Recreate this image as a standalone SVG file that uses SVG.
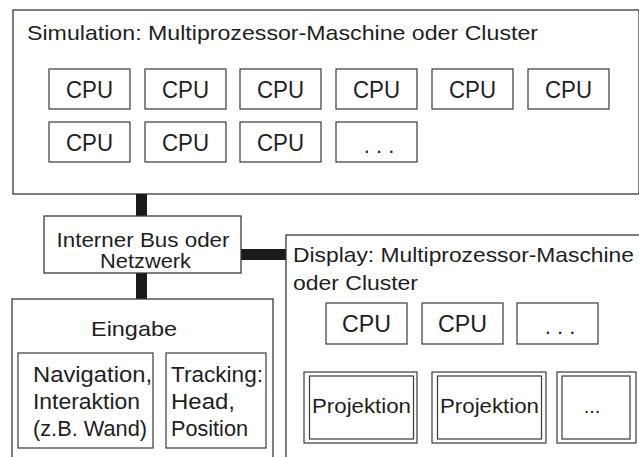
<svg xmlns="http://www.w3.org/2000/svg" width="639" height="457" viewBox="0 0 639 457">
<style>
  .box { fill: #fff; stroke: #3a3a3a; stroke-width: 1.3; }
  .cpu { fill: #fff; stroke: #3a3a3a; stroke-width: 1.2; }
  text { font-family: "Liberation Sans", Arial, sans-serif; fill: #1e1e1e; }
  .t20 { font-size: 21px; }
  .t21 { font-size: 22px; }
  .c { font-size: 24px; text-anchor: middle; }
  .d { font-size: 22px; text-anchor: middle; }
  .p { font-size: 20px; text-anchor: middle; }
  .bar { stroke: #1a1a1a; stroke-width: 11; }
</style>
<rect width="639" height="457" fill="#fff"/>

<g id="simulation">
  <rect class="box" x="13" y="10" width="626" height="184"/>
  <text class="t20" x="27" y="40" textLength="511" lengthAdjust="spacingAndGlyphs">Simulation: Multiprozessor-Maschine oder Cluster</text>
  <g id="sim-cpu1"><rect class="cpu" x="49" y="69" width="81" height="40"/><text class="c" x="89.5" y="98" textLength="47" lengthAdjust="spacingAndGlyphs">CPU</text></g>
  <g id="sim-cpu2"><rect class="cpu" x="145" y="69" width="81" height="40"/><text class="c" x="185.5" y="98" textLength="47" lengthAdjust="spacingAndGlyphs">CPU</text></g>
  <g id="sim-cpu3"><rect class="cpu" x="240" y="69" width="81" height="40"/><text class="c" x="280.5" y="98" textLength="47" lengthAdjust="spacingAndGlyphs">CPU</text></g>
  <g id="sim-cpu4"><rect class="cpu" x="336" y="69" width="81" height="40"/><text class="c" x="376.5" y="98" textLength="47" lengthAdjust="spacingAndGlyphs">CPU</text></g>
  <g id="sim-cpu5"><rect class="cpu" x="432" y="69" width="81" height="40"/><text class="c" x="472.5" y="98" textLength="47" lengthAdjust="spacingAndGlyphs">CPU</text></g>
  <g id="sim-cpu6"><rect class="cpu" x="528" y="69" width="81" height="40"/><text class="c" x="568.5" y="98" textLength="47" lengthAdjust="spacingAndGlyphs">CPU</text></g>
  <g id="sim-cpu7"><rect class="cpu" x="49" y="122" width="81" height="40"/><text class="c" x="89.5" y="151" textLength="47" lengthAdjust="spacingAndGlyphs">CPU</text></g>
  <g id="sim-cpu8"><rect class="cpu" x="145" y="122" width="81" height="40"/><text class="c" x="185.5" y="151" textLength="47" lengthAdjust="spacingAndGlyphs">CPU</text></g>
  <g id="sim-cpu9"><rect class="cpu" x="240" y="122" width="81" height="40"/><text class="c" x="280.5" y="151" textLength="47" lengthAdjust="spacingAndGlyphs">CPU</text></g>
  <g id="sim-more"><rect class="cpu" x="336" y="122" width="81" height="40"/><text class="d" x="379" y="153">. . .</text></g>
</g>

<g id="connectors">
  <line class="bar" x1="141.5" y1="194" x2="141.5" y2="217"/>
  <line class="bar" x1="141.5" y1="273" x2="141.5" y2="299"/>
  <line class="bar" x1="241" y1="254.5" x2="286" y2="254.5"/>
</g>

<g id="bus">
  <rect class="box" x="44" y="216" width="197" height="57"/>
  <text class="t20" x="143" y="247" text-anchor="middle" textLength="173" lengthAdjust="spacingAndGlyphs">Interner Bus oder</text>
  <text class="t20" x="145.5" y="268" text-anchor="middle" textLength="91" lengthAdjust="spacingAndGlyphs">Netzwerk</text>
</g>

<g id="display">
  <rect class="box" x="286" y="235" width="360" height="240"/>
  <text class="t20" x="293" y="262" textLength="341" lengthAdjust="spacingAndGlyphs">Display: Multiprozessor-Maschine</text>
  <text class="t20" x="293" y="290" textLength="125" lengthAdjust="spacingAndGlyphs">oder Cluster</text>
  <g id="disp-cpu1"><rect class="cpu" x="326" y="303" width="81" height="41"/><text class="c" x="366.5" y="332" textLength="49" lengthAdjust="spacingAndGlyphs">CPU</text></g>
  <g id="disp-cpu2"><rect class="cpu" x="422" y="303" width="81" height="41"/><text class="c" x="462.5" y="332" textLength="49" lengthAdjust="spacingAndGlyphs">CPU</text></g>
  <g id="disp-more"><rect class="cpu" x="517" y="303" width="81" height="41"/><text class="d" x="560" y="334">. . .</text></g>
  <g id="proj1">
    <rect class="cpu" x="304" y="372" width="113" height="71"/>
    <rect class="cpu" x="309.5" y="376" width="104" height="63"/>
    <text class="p" x="361.5" y="413" textLength="99" lengthAdjust="spacingAndGlyphs">Projektion</text>
  </g>
  <g id="proj2">
    <rect class="cpu" x="432" y="372" width="114" height="71"/>
    <rect class="cpu" x="437.5" y="376" width="104" height="63"/>
    <text class="p" x="489.5" y="413" textLength="99" lengthAdjust="spacingAndGlyphs">Projektion</text>
  </g>
  <g id="proj-more">
    <rect class="cpu" x="557" y="372" width="79" height="71"/>
    <rect class="cpu" x="562" y="376" width="68" height="63"/>
    <text class="p" x="592" y="413">...</text>
  </g>
</g>

<g id="eingabe">
  <rect class="box" x="12" y="299" width="261" height="180"/>
  <text class="t20" x="134" y="336" text-anchor="middle" textLength="86" lengthAdjust="spacingAndGlyphs">Eingabe</text>
  <g id="navigation">
    <rect class="cpu" x="18" y="353" width="135" height="95"/>
    <text class="t21" x="33" y="382" textLength="119" lengthAdjust="spacingAndGlyphs">Navigation,</text>
    <text class="t21" x="33" y="409" textLength="107" lengthAdjust="spacingAndGlyphs">Interaktion</text>
    <text class="t21" x="33" y="436" textLength="114" lengthAdjust="spacingAndGlyphs">(z.B. Wand)</text>
  </g>
  <g id="tracking">
    <rect class="cpu" x="166" y="353" width="100" height="95"/>
    <text class="t21" x="171" y="382" textLength="92" lengthAdjust="spacingAndGlyphs">Tracking:</text>
    <text class="t21" x="171" y="409" textLength="64" lengthAdjust="spacingAndGlyphs">Head,</text>
    <text class="t21" x="171" y="436" textLength="77" lengthAdjust="spacingAndGlyphs">Position</text>
  </g>
</g>
</svg>
